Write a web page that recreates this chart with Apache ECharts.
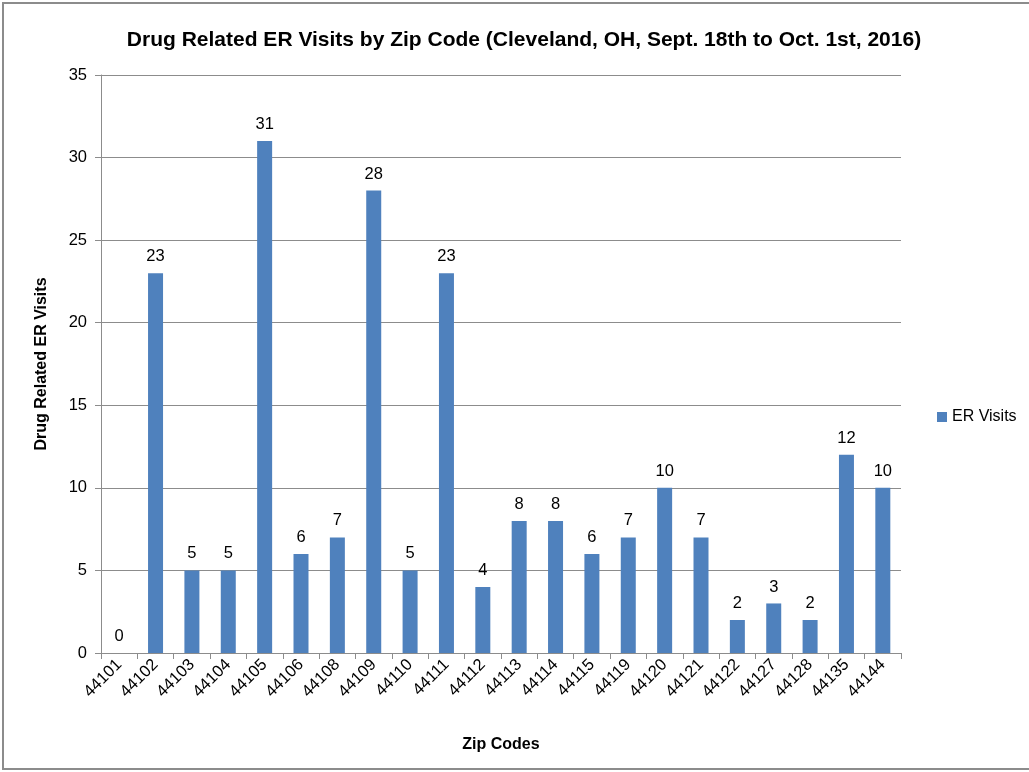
<!DOCTYPE html>
<html>
<head>
<meta charset="utf-8">
<script src="https://cdn.jsdelivr.net/npm/echarts@6/dist/echarts.min.js"></script>
<style>
  html, body { margin: 0; padding: 0; background: #fff; }
  #frame { position: absolute; left: 2px; top: 2px; width: 1030px; height: 768px; border: 2px solid #8c8c8c; box-sizing: border-box; }
  #main { position: absolute; left: 0; top: 0; width: 1029px; height: 772px; }
</style>
</head>
<body>
<div id="frame"></div>
<div id="main"></div>
<script>
// zip codes and drug related ER visit counts
const zipCodes = ['44101', '44102', '44103', '44104', '44105', '44106', '44108', '44109', '44110', '44111',
  '44112', '44113', '44114', '44115', '44119', '44120', '44121', '44122', '44127', '44128', '44135', '44144'];
const erVisits = [0, 23, 5, 5, 31, 6, 7, 28, 5, 23, 4, 8, 8, 6, 7, 10, 7, 2, 3, 2, 12, 10];
const yTicks = [0, 5, 10, 15, 20, 25, 30, 35];

const font = 'Liberation Sans';
const chart = echarts.init(document.getElementById('main'));

chart.setOption({
  animation: false,
  textStyle: { fontFamily: font },
  title: {
    text: 'Drug Related ER Visits by Zip Code (Cleveland, OH, Sept. 18th to Oct. 1st, 2016)',
    left: 519, top: 25, textAlign: 'center',
    textStyle: { fontSize: 21, fontWeight: 'bold', color: '#000', fontFamily: font }
  },
  legend: {
    orient: 'vertical', left: 932, top: 404,
    itemWidth: 10, itemHeight: 10, icon: 'rect', itemGap: 6,
    textStyle: { fontSize: 16, color: '#000' },
    data: ['ER Visits']
  },
  grid: { left: 101, right: 128, top: 75, bottom: 119, containLabel: false },
  xAxis: {
    type: 'category',
    data: zipCodes,
    name: 'Zip Codes', nameLocation: 'middle', nameGap: 84,
    nameTextStyle: { fontSize: 16, fontWeight: 'bold', color: '#000' },
    axisLine: { lineStyle: { color: '#8c8c8c', width: 1 } },
    axisTick: { show: true, length: 6, lineStyle: { color: '#8c8c8c' } },
    axisLabel: { rotate: 45, fontSize: 16.5, color: '#000', margin: 9 }
  },
  yAxis: {
    type: 'value', min: 0, max: 35, interval: 5,
    name: 'Drug Related ER Visits', nameLocation: 'middle', nameGap: 51,
    nameTextStyle: { fontSize: 16, fontWeight: 'bold', color: '#000' },
    axisLine: { show: true, lineStyle: { color: '#8c8c8c', width: 1 } },
    axisTick: { show: true, length: 6, lineStyle: { color: '#8c8c8c' } },
    splitLine: { lineStyle: { color: '#8c8c8c', width: 1 } },
    axisLabel: {
      fontSize: 16.5, color: '#000', margin: 14,
      formatter: v => (yTicks.includes(v) ? String(v) : '')
    }
  },
  series: [{
    name: 'ER Visits',
    type: 'bar',
    data: erVisits,
    barWidth: 15,
    itemStyle: { color: '#4f81bd' },
    label: { show: true, position: 'top', distance: 8, fontSize: 16.5, color: '#000' }
  }]
});
</script>
</body>
</html>
